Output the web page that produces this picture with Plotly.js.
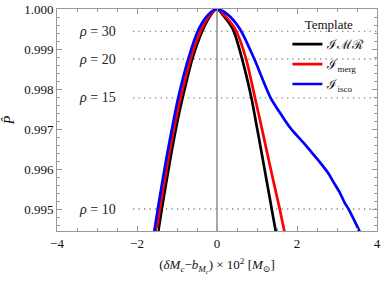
<!DOCTYPE html>
<html>
<head>
<meta charset="utf-8">
<script src="https://cdn.plot.ly/plotly-3.0.1.min.js"></script>
<style>html,body{margin:0;padding:0;background:#fff;}#chart{width:382px;height:286px;}</style>
</head>
<body>
<div id="chart"></div>
<script>
// Template curves: x = (δMc - b_Mc) × 10^2, y = P̂
const imrX   = [-1.53, -1.465, -1.38, -1.17, -0.98, -0.86, -0.61, -0.35, -0.15, 0.00, 0.14, 0.40, 0.62, 0.86, 0.985, 1.10, 1.235, 1.37, 1.465, 1.53];
const imrY   = [0.99411, 0.99446, 0.99500, 0.99624, 0.99724, 0.99778, 0.99878, 0.99949, 0.99986, 1.00000, 0.99986, 0.99949, 0.99878, 0.99778, 0.99711, 0.99649, 0.99574, 0.99499, 0.99446, 0.99411];
const mergX  = [-1.58, -1.515, -1.43, -1.22, -1.03, -0.91, -0.65, -0.39, -0.17, 0.00, 0.17, 0.46, 0.72, 0.95, 1.10, 1.235, 1.40, 1.57, 1.68, 1.76];
const mergY  = [0.99411, 0.99446, 0.99500, 0.99624, 0.99724, 0.99778, 0.99878, 0.99949, 0.99986, 1.00000, 0.99986, 0.99949, 0.99878, 0.99778, 0.99711, 0.99649, 0.99574, 0.99499, 0.99446, 0.99411];
const iscoX  = [-1.63, -1.565, -1.48, -1.27, -1.08, -0.97, -0.71, -0.46, -0.22, 0.00, 0.27, 0.58, 0.92, 1.34, 1.63, 1.83, 1.94, 2.16, 2.37, 2.58, 2.77, 2.92, 3.07, 3.19, 3.30, 3.42, 3.56, 3.64];
const iscoY  = [0.99411, 0.99446, 0.99500, 0.99624, 0.99724, 0.99778, 0.99878, 0.99949, 0.99986, 1.00000, 0.99986, 0.99949, 0.99878, 0.99778, 0.99732, 0.99703, 0.99690, 0.99666, 0.99641, 0.99616, 0.99591, 0.99566, 0.99541, 0.99516, 0.99498, 0.99474, 0.99445, 0.99425];
const templateNames = ["ℐℳℛ", "ℐ<sub>merg</sub>", "ℐ<sub>isco</sub>"];
const templateColors = ["#000000", "#ff0000", "#0000ff"];

// SNR reference levels
const rhoLabels = ["30", "20", "15", "10"];
const rhoLevels = [0.99944, 0.99875, 0.99778, 0.99500];
const rhoLineStart = -2.1, rhoLineEnd = 4.0, rhoLabelX = -3.0;

const FONT = "'Liberation Serif', 'DejaVu Serif', serif";

const traces = [];
// dotted rho lines
rhoLevels.forEach((lv) => {
  traces.push({x: [rhoLineStart, rhoLineEnd], y: [lv, lv], mode: "lines", showlegend: false, hoverinfo: "skip",
    line: {color: "#8a8a8a", width: 1.3, dash: "1.3px,4.2px"}});
});
const curves = [[imrX, imrY], [mergX, mergY], [iscoX, iscoY]];
curves.forEach((c, i) => {
  traces.push({x: c[0], y: c[1], mode: "lines", name: templateNames[i],
    line: {color: templateColors[i], width: 2.7, shape: "spline", smoothing: 0.7}});
});

const annotations = rhoLabels.map((r, i) => ({
  x: rhoLabelX, y: rhoLevels[i], xref: "x", yref: "y", text: "<i>ρ</i> = " + r,
  showarrow: false, font: {family: FONT, size: 14, color: "#222"}, xanchor: "center", yanchor: "middle"
}));

const layout = {
  width: 382, height: 286,
  margin: {l: 57, r: 5, t: 9, b: 55},
  paper_bgcolor: "#fff", plot_bgcolor: "#fff",
  font: {family: FONT, size: 13, color: "#111"},
  xaxis: {
    range: [-4, 4], dtick: 2, tick0: 0, ticks: "inside", ticklen: 5, tickcolor: "#999", tickwidth: 1,
    showline: true, linecolor: "#999", linewidth: 1, mirror: "allticks", showgrid: false,
    zeroline: true, zerolinecolor: "#aaa", zerolinewidth: 1.2,
    minor: {dtick: 0.5, ticks: "inside", ticklen: 3, tickcolor: "#999", showgrid: false},
    tickfont: {family: FONT, size: 13, color: "#111"},
    title: {text: "(<i>δM</i><sub><i>c</i></sub>−<i>b</i><sub><i>M</i><sub><i>c</i></sub></sub>) × 10<sup>2</sup> [<i>M</i><sub>⊙</sub>]",
      font: {family: FONT, size: 13, color: "#111"}, standoff: 10}
  },
  yaxis: {
    range: [0.99445, 1.0], dtick: 0.001, tick0: 1.0, tickformat: ".3f", ticks: "inside", ticklen: 5, tickcolor: "#999", tickwidth: 1,
    showline: true, linecolor: "#999", linewidth: 1, mirror: "allticks", showgrid: false, zeroline: false,
    minor: {dtick: 0.0002, ticks: "inside", ticklen: 3, tickcolor: "#999", showgrid: false},
    tickfont: {family: FONT, size: 13, color: "#111"},
    title: {text: "<i>P̂</i>", font: {family: FONT, size: 14, color: "#111"}, standoff: 6}
  },
  legend: {
    x: 0.72, y: 0.985, xanchor: "left", yanchor: "top",
    bgcolor: "rgba(0,0,0,0)", borderwidth: 0,
    title: {text: "Template", side: "top center", font: {family: FONT, size: 13, color: "#111"}},
    font: {family: FONT, size: 13, color: "#111"}, tracegroupgap: 0, itemwidth: 30
  },
  annotations: annotations,
  showlegend: true
};

Plotly.newPlot("chart", traces, layout, {displayModeBar: false, staticPlot: true});
</script>
</body>
</html>
